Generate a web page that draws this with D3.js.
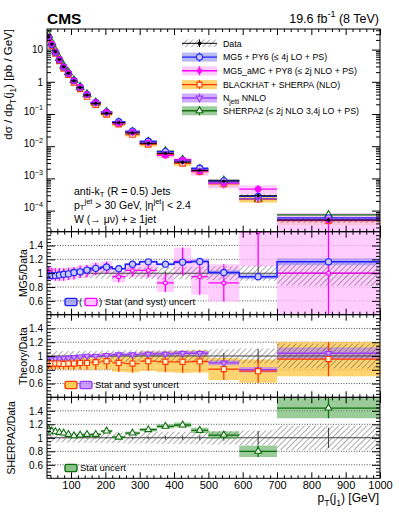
<!DOCTYPE html>
<html><head><meta charset="utf-8">
<script src="https://cdnjs.cloudflare.com/ajax/libs/d3/7.8.5/d3.min.js"></script>
<style>body{margin:0;background:#fff} svg{display:block} text{font-family:"Liberation Sans",Arial,Helvetica,sans-serif;fill:#000}</style>
</head><body><svg id="c" width="399" height="516"></svg>
<script>
// ---------------- data ----------------
const binEdges = [30,39,49,60,72,85,100,117,136,157,187,220,258,300,350,400,450,500,590,700,1000];
const dataXsec = [25,14.9,8.6,5.0,2.95,1.85,1.08,0.67,0.39,0.215,0.105,0.054,0.026,0.0123,0.0060,0.0032,0.00177,0.00083,0.00029,0.000051];
const dataStat = [0.004,0.004,0.004,0.005,0.005,0.005,0.006,0.007,0.008,0.009,0.01,0.012,0.015,0.02,0.025,0.03,0.035,0.045,0.1,0.15];
const dataTot  = [0.075,0.07,0.07,0.07,0.07,0.07,0.07,0.075,0.075,0.075,0.08,0.08,0.085,0.085,0.09,0.09,0.095,0.1,0.11,0.18];
const mg5Ratio = [0.965,0.965,0.965,0.975,0.985,0.99,1.01,1.02,1.045,1.07,1.09,1.065,1.13,1.165,1.13,1.16,1.17,1.01,0.95,1.165];
const mg5Err   = [0.008,0.008,0.008,0.008,0.008,0.009,0.01,0.01,0.011,0.012,0.013,0.014,0.016,0.018,0.02,0.022,0.025,0.03,0.035,0.05];
const amcRatio = [1.0,0.99,0.98,0.98,0.98,0.99,1.0,1.02,1.03,1.06,1.08,0.95,1.04,1.04,0.86,1.17,0.95,0.86,1.6,1.0];
const amcErr   = [0.09,0.09,0.09,0.09,0.09,0.09,0.09,0.09,0.09,0.09,0.09,0.08,0.09,0.1,0.13,0.2,0.26,0.27,0.5,0.65];
const bhRatio  = [0.89,0.89,0.89,0.89,0.885,0.89,0.89,0.90,0.90,0.91,0.925,0.90,0.89,0.925,0.915,0.915,0.92,0.81,0.78,0.955];
const bhErr    = [0.08,0.08,0.08,0.08,0.08,0.085,0.09,0.095,0.1,0.11,0.12,0.13,0.13,0.14,0.15,0.16,0.16,0.16,0.17,0.25];
const njRatio  = [0.95,0.95,0.96,0.96,0.97,0.97,0.98,0.99,1.0,1.0,1.01,1.02,1.02,1.03,1.03,1.04,1.04,0.90,0.80,1.04];
const njErr    = [0.025,0.025,0.025,0.025,0.025,0.025,0.025,0.025,0.025,0.028,0.03,0.03,0.03,0.032,0.034,0.035,0.035,0.035,0.04,0.085];
const sh2Ratio = [1.13,1.10,1.09,1.08,1.07,1.05,1.03,1.04,1.05,1.05,1.10,1.01,1.07,1.12,1.17,1.19,1.11,1.04,0.80,1.44];
const sh2Err   = [0.015,0.012,0.012,0.012,0.012,0.012,0.012,0.012,0.013,0.014,0.016,0.018,0.022,0.025,0.03,0.035,0.04,0.055,0.085,0.15];
const xTicks = [100,200,300,400,500,600,700,800,900,1000];
const mainYTicks = [1e-4,1e-3,1e-2,1e-1,1,10];
const ratioYTicks = [0.6,0.8,1,1.2,1.4];

// ---------------- setup ----------------
const svg = d3.select('#c');
const defs = svg.append('defs');
const pat = defs.append('pattern').attr('id','hatch').attr('patternUnits','userSpaceOnUse')
  .attr('width',4).attr('height',4).attr('patternTransform','rotate(45)');
pat.append('line').attr('x1',0).attr('y1',0).attr('x2',0).attr('y2',4).attr('stroke','#444').attr('stroke-width',0.9);

const L = 47, R = 380;
const x = d3.scaleLinear().domain([30,1000]).range([L,R]);
const yMain = d3.scaleLog().domain([Math.pow(10,-4.655), Math.pow(10,1.64)]).range([231.7,29]);
const panelsDef = [{top:231.7,bot:314.7},{top:314.7,bot:397.3},{top:397.3,bot:478.3}];
const yR = panelsDef.map(p=>d3.scaleLinear().domain([0.4,1.6]).range([p.bot,p.top]));
const bins = d3.range(binEdges.length-1).map(i=>({lo:binEdges[i],hi:binEdges[i+1],c:(binEdges[i]+binEdges[i+1])/2,i}));

const allPanels = [{top:29,bot:231.7,id:'cm'}].concat(panelsDef.map((p,k)=>({...p,id:'cr'+k})));
allPanels.forEach(p=>{
  defs.append('clipPath').attr('id',p.id).append('rect').attr('x',L).attr('y',p.top).attr('width',R-L).attr('height',p.bot-p.top);
});

const C = {
  mg5:{line:'#1f1fff',band:'#8c8cf0',bandOp:0.6},
  amc:{line:'#ff00ff',band:'#ffbcff',bandOp:0.75},
  bh:{line:'#ff3a00',band:'#ffc640',bandOp:0.75},
  nj:{line:'#9a3cff',band:'#b580ff',bandOp:0.65},
  sh2:{line:'#0f6e0f',band:'#55aa55',bandOp:0.6}
};

function rich(t, parts, fs, subOff){
  let cur = 0;
  const so = subOff===undefined ? 0.32 : subOff;
  parts.forEach(p=>{
    const [s,k,dx] = p;
    const off = k==='sub'? fs*so : k==='sup'? -fs*0.42 : 0;
    const ts = t.append('tspan').attr('dy', off-cur).style('font-size',(k==='n'?fs:fs*0.72)+'px').text(s);
    if(dx) ts.attr('dx',dx);
    cur = off;
  });
}

function sym(type, size){
  const map = {circle:d3.symbolCircle, square:d3.symbolSquare, tri:d3.symbolTriangle, tridown:d3.symbolTriangle};
  return d3.symbol().type(map[type]).size(size)();
}

function drawMarker(g, cx, cy, type, color, fill, size){
  return g.append('path').attr('d', sym(type,size)).attr('transform',`translate(${cx},${cy})${type==='tridown'?' rotate(180)':''}`)
    .attr('fill',fill).attr('stroke',color).attr('stroke-width',1.1);
}

function drawBand(g, ys, vals, errs, col, op){
  g.selectAll(null).data(bins).join('rect')
    .attr('x',b=>x(b.lo)).attr('width',b=>x(b.hi)-x(b.lo))
    .attr('y',b=>ys(vals[b.i]+errs[b.i]))
    .attr('height',b=>Math.max(0.8, ys(Math.max(vals[b.i]-errs[b.i],1e-9))-ys(vals[b.i]+errs[b.i])))
    .attr('fill',col).attr('fill-opacity',op);
}
function drawBars(g, ys, vals, errs, col, sw){
  g.selectAll(null).data(bins).join('line')
    .attr('x1',b=>x(b.lo)).attr('x2',b=>x(b.hi)).attr('y1',b=>ys(vals[b.i])).attr('y2',b=>ys(vals[b.i]))
    .attr('stroke',col).attr('stroke-width',sw||1.4);
  g.selectAll(null).data(bins).join('line')
    .attr('x1',b=>x(b.c)).attr('x2',b=>x(b.c))
    .attr('y1',b=>ys(vals[b.i]+errs[b.i])).attr('y2',b=>ys(Math.max(vals[b.i]-errs[b.i],1e-9)))
    .attr('stroke',col).attr('stroke-width',sw||1.4);
}
function drawStep(g, ys, vals, col){
  const pts = [];
  bins.forEach(b=>{pts.push([x(b.lo),ys(vals[b.i])]); pts.push([x(b.hi),ys(vals[b.i])]);});
  g.append('path').attr('d',d3.line()(pts)).attr('fill','none').attr('stroke',col).attr('stroke-width',1.5);
}
function drawMarkers(g, ys, vals, type, col, fill, size){
  bins.forEach(b=>drawMarker(g, x(b.c), ys(vals[b.i]), type, col, fill, size));
}

// ---------------- axes ----------------
const xMinor = d3.range(40,1001,20).filter(v=>v%100!==0);
function xAxes(top, bot, labels){
  const g = svg.append('g');
  g.append('g').attr('transform',`translate(0,${bot})`)
    .call(d3.axisBottom(x).tickValues(xTicks).tickSize(-6).tickPadding(3).tickFormat(labels? d3.format('d') : ''))
    .call(a=>{a.select('.domain').remove(); a.selectAll('text').style('font-size','11px').style('font-family','Liberation Sans, Arial, sans-serif');});
  g.append('g').attr('transform',`translate(0,${bot})`).call(d3.axisBottom(x).tickValues(xMinor).tickSize(-3).tickFormat(''))
    .call(a=>a.select('.domain').remove());
  g.append('g').attr('transform',`translate(0,${top})`).call(d3.axisTop(x).tickValues(xTicks).tickSize(-6).tickFormat(''))
    .call(a=>a.select('.domain').remove());
  g.append('g').attr('transform',`translate(0,${top})`).call(d3.axisTop(x).tickValues(xMinor).tickSize(-3).tickFormat(''))
    .call(a=>a.select('.domain').remove());
  g.selectAll('line').attr('stroke','#000');
}
function yAxes(ys, major, minor, majLen, minLen, fmt, fs){
  const g = svg.append('g');
  g.append('g').attr('transform',`translate(${L},0)`).call(d3.axisLeft(ys).tickValues(major).tickSize(-majLen).tickPadding(4).tickFormat(fmt))
    .call(a=>{a.select('.domain').remove(); a.selectAll('text').style('font-size',fs+'px').style('font-family','Liberation Sans, Arial, sans-serif');});
  g.append('g').attr('transform',`translate(${L},0)`).call(d3.axisLeft(ys).tickValues(minor).tickSize(-minLen).tickFormat(''))
    .call(a=>a.select('.domain').remove());
  g.append('g').attr('transform',`translate(${R},0)`).call(d3.axisRight(ys).tickValues(major).tickSize(-majLen).tickFormat(''))
    .call(a=>a.select('.domain').remove());
  g.append('g').attr('transform',`translate(${R},0)`).call(d3.axisRight(ys).tickValues(minor).tickSize(-minLen).tickFormat(''))
    .call(a=>a.select('.domain').remove());
  g.selectAll('line').attr('stroke','#000');
  return g;
}

// ---------------- main panel ----------------
const gm = svg.append('g').attr('clip-path','url(#cm)');
const abs = r => r.map((v,i)=>v*dataXsec[i]);
const series = [
  {k:'sh2', r:sh2Ratio, e:sh2Err, sym:'tri', fill:'#fff', size:26},
  {k:'bh', r:bhRatio, e:bhErr, sym:'square', fill:'#fff3d0', size:30},
  {k:'mg5', r:mg5Ratio, e:mg5Err, sym:'circle', fill:'#c8c8ff', size:30},
  {k:'amc', r:amcRatio, e:amcErr, sym:'circle', fill:'#ff00ff', size:24},
  {k:'nj', r:njRatio, e:njErr, sym:'tridown', fill:'#9a3cff', size:10}
];
series.forEach(s=>drawBand(gm, yMain, abs(s.r), abs(s.e), C[s.k].band, C[s.k].bandOp));
drawBand(gm.append('g'), yMain, dataXsec, abs(dataTot), 'url(#hatch)', 1);
series.forEach(s=>{ drawBars(gm, yMain, abs(s.r), abs(s.e), C[s.k].line, 1.3); });
series.forEach(s=>{ drawMarkers(gm, yMain, abs(s.r), s.sym, C[s.k].line, s.fill, s.size); });
drawBars(gm, yMain, dataXsec, abs(dataStat), '#000', 1);
bins.forEach(b=>gm.append('circle').attr('cx',x(b.c)).attr('cy',yMain(dataXsec[b.i])).attr('r',1.6).attr('fill','#000'));

// ---------------- ratio panels ----------------
function ratioBase(k){
  const g = svg.append('g').attr('clip-path',`url(#cr${k})`);
  const ys = yR[k];
  g.selectAll(null).data([0.6,0.8,1.2,1.4]).join('line')
    .attr('x1',L).attr('x2',R).attr('y1',d=>ys(d)).attr('y2',d=>ys(d))
    .attr('stroke','#222').attr('stroke-width',0.8).attr('stroke-dasharray','1,1.6');
  return g;
}
const ones = bins.map(()=>1);
function dataRatio(g, ys){ drawBand(g, ys, ones, dataTot, 'url(#hatch)', 1); }
function dataRatioLine(g, ys){ drawBars(g, ys, ones, dataStat, '#444', 1.1); }

{
  const ys = yR[0]; const g = ratioBase(0);
  drawBand(g, ys, amcRatio, amcErr, C.amc.band, C.amc.bandOp);
  dataRatio(g, ys);
  dataRatioLine(g, ys);
  drawBand(g, ys, mg5Ratio, mg5Err, C.mg5.band, C.mg5.bandOp);
  drawBars(g, ys, amcRatio, amcErr, C.amc.line, 1.3);
  drawMarkers(g, ys, amcRatio, 'circle', C.amc.line, '#ffd0ff', 12);
  drawStep(g, ys, mg5Ratio, C.mg5.line);
  drawMarkers(g, ys, mg5Ratio, 'circle', C.mg5.line, '#c8c8ff', 30);
}
{
  const ys = yR[1]; const g = ratioBase(1);
  drawBand(g, ys, bhRatio, bhErr, C.bh.band, C.bh.bandOp);
  drawBand(g, ys, njRatio, njErr, C.nj.band, C.nj.bandOp);
  dataRatio(g, ys);
  dataRatioLine(g, ys);
  drawBars(g, ys, njRatio, njErr, C.nj.line, 1.3);
  drawBars(g, ys, bhRatio, bhErr, C.bh.line, 1.3);
  drawMarkers(g, ys, njRatio, 'tridown', C.nj.line, '#c9a0ff', 16);
  drawMarkers(g, ys, bhRatio, 'square', C.bh.line, '#fff3d0', 26);
}
{
  const ys = yR[2]; const g = ratioBase(2);
  dataRatio(g, ys);
  dataRatioLine(g, ys);
  drawBand(g, ys, sh2Ratio, sh2Err, C.sh2.band, C.sh2.bandOp);
  drawBars(g, ys, sh2Ratio, sh2Err, C.sh2.line, 1.3);
  drawMarkers(g, ys, sh2Ratio, 'tri', C.sh2.line, '#fff', 20);
}

// ---------------- axes & frames ----------------
const mainMinor = [];
for(let e=-5;e<=1;e++) for(let m=2;m<=9;m++){ const v=m*Math.pow(10,e); if(v>yMain.domain()[0]&&v<yMain.domain()[1]) mainMinor.push(v); }
const gy = yAxes(yMain, mainYTicks, mainMinor, 8, 4, d=>'', 10);
gy.select('g').selectAll('.tick').each(function(d){
  const t = d3.select(this).select('text');
  const e = Math.round(Math.log10(d));
  if(e===0) t.text('1');
  else if(e===1) t.text('10');
  else { t.text(''); rich(t, [['10','n'],['\u2212'+(-e),'sup']], 10); }
});
const rMinor = d3.range(9,32).map(v=>v/20).filter(v=>Math.round(v*20)%4!==0);
panelsDef.forEach((p,k)=>yAxes(yR[k], ratioYTicks, rMinor, 8, 4, d=>d===1?'1':d3.format('.1f')(d), 10));
allPanels.forEach((p,k)=>xAxes(p.top, p.bot, k===3));
allPanels.forEach(p=>svg.append('rect').attr('x',L).attr('y',p.top).attr('width',R-L).attr('height',p.bot-p.top)
  .attr('fill','none').attr('stroke','#000').attr('stroke-width',1));

// ---------------- texts ----------------
svg.append('text').attr('x',47).attr('y',23.5).style('font-size','15.5px').style('font-weight','bold').text('CMS');
{
  const t = svg.append('text').attr('x',379).attr('y',22.5).attr('text-anchor','end');
  rich(t, [['19.6 fb','n'],['-1','sup'],[' (8 TeV)','n']], 12.5);
}
{
  const t = svg.append('text').attr('transform','translate(12,29) rotate(-90)').attr('text-anchor','end');
  rich(t, [['d\u03c3 / dp','n'],['T','sub'],['(j','n'],['1','sub'],[') [pb / GeV]','n']], 11.5);
}
svg.append('text').attr('transform',`translate(27,${(panelsDef[0].top+panelsDef[0].bot)/2}) rotate(-90)`).attr('text-anchor','middle').style('font-size','10.5px').text('MG5/Data');
svg.append('text').attr('transform',`translate(27,${(panelsDef[1].top+panelsDef[1].bot)/2}) rotate(-90)`).attr('text-anchor','middle').style('font-size','10.5px').text('Theory/Data');
svg.append('text').attr('transform',`translate(15,${(panelsDef[2].top+panelsDef[2].bot)/2}) rotate(-90)`).attr('text-anchor','middle').style('font-size','10.5px').text('SHERPA2/Data');
{
  const t = svg.append('text').attr('x',379).attr('y',502).attr('text-anchor','end');
  rich(t, [['p','n'],['T','sub'],['(j','n'],['1','sub'],[') [GeV]','n']], 12);
}
{
  const fs = 10.5;
  let t = svg.append('text').attr('x',74).attr('y',194.5);
  rich(t, [['anti-k','n'],['T','sub'],[' (R = 0.5) Jets','n']], fs, 0.2);
  t = svg.append('text').attr('x',74).attr('y',208.5);
  rich(t, [['p','n'],['T','sub'],['jet','sup'],[' > 30 GeV, |\u03b7','n'],['jet','sup'],['| < 2.4','n']], fs, 0.15);
  t = svg.append('text').attr('x',74).attr('y',223);
  rich(t, [['W (\u2192 \u03bc\u03bd) + \u2265 1jet','n']], fs);
}

// ---------------- legend ----------------
{
  const lx0 = 182, lx1 = 217, tx = 223, fs = 8.8;
  const rows = [43.3, 57.1, 70.8, 84.6, 98.0, 110.8];
  const lg = svg.append('g');
  lg.append('rect').attr('x',lx0).attr('y',rows[0]-3.8).attr('width',lx1-lx0).attr('height',7.6).attr('fill','url(#hatch)');
  lg.append('line').attr('x1',lx0).attr('x2',lx1).attr('y1',rows[0]).attr('y2',rows[0]).attr('stroke','#000').attr('stroke-width',1);
  lg.append('line').attr('x1',(lx0+lx1)/2).attr('x2',(lx0+lx1)/2).attr('y1',rows[0]-3.8).attr('y2',rows[0]+3.8).attr('stroke','#000').attr('stroke-width',1);
  lg.append('circle').attr('cx',(lx0+lx1)/2).attr('cy',rows[0]).attr('r',1.9).attr('fill','#000');
  lg.append('text').attr('x',tx).attr('y',rows[0]+3.2).style('font-size',fs+'px').text('Data');
  const items = [
    {k:'mg5', sym:'circle', fill:'#c8c8ff', size:30, label:[['MG5 + PY6 (\u2264 4j LO + PS)','n']]},
    {k:'amc', sym:'circle', fill:'#ff00ff', size:12, label:[['MG5_aMC + PY8 (\u2264 2j NLO + PS)','n']]},
    {k:'bh', sym:'square', fill:'#fff3d0', size:24, label:[['BLACKHAT + SHERPA (NLO)','n']]},
    {k:'nj', sym:'tridown', fill:'#c9a0ff', size:18, label:[['N','n'],['jetti','sub'],[' NNLO','n']]},
    {k:'sh2', sym:'tri', fill:'#fff', size:20, label:[['SHERPA2 (\u2264 2j NLO 3,4j LO + PS)','n']]}
  ];
  items.forEach((it,j)=>{
    const yy = rows[j+1];
    lg.append('rect').attr('x',lx0).attr('y',yy-4.5).attr('width',lx1-lx0).attr('height',9).attr('fill',C[it.k].band).attr('fill-opacity',C[it.k].bandOp);
    lg.append('line').attr('x1',lx0).attr('x2',lx1).attr('y1',yy).attr('y2',yy).attr('stroke',C[it.k].line).attr('stroke-width',1.4);
    lg.append('line').attr('x1',(lx0+lx1)/2).attr('x2',(lx0+lx1)/2).attr('y1',yy-4.5).attr('y2',yy+4.5).attr('stroke',C[it.k].line).attr('stroke-width',1.2);
    drawMarker(lg, (lx0+lx1)/2, yy, it.sym, C[it.k].line, it.fill, it.size);
    const t = lg.append('text').attr('x',tx).attr('y',yy+3.2).style('font-size',fs+'px');
    rich(t, it.label, fs);
  });
}
function legBox(x0,yc,k){
  svg.append('rect').attr('x',x0).attr('y',yc-3.6).attr('width',12).attr('height',7.2).attr('rx',1.5)
    .attr('fill',C[k].band).attr('fill-opacity',C[k].bandOp+0.1).attr('stroke',C[k].line).attr('stroke-width',1.4);
}
{
  const fs = 9.5;
  legBox(65,302,'mg5');
  svg.append('text').attr('x',79).attr('y',305.3).style('font-size',fs+'px').text('(');
  legBox(85,302,'amc');
  svg.append('text').attr('x',99).attr('y',305.3).style('font-size',fs+'px').text(') Stat (and syst) uncert');
  legBox(65,385,'bh');
  legBox(80,385,'nj');
  svg.append('text').attr('x',95).attr('y',388.3).style('font-size',fs+'px').text('Stat and syst uncert');
  legBox(65,468,'sh2');
  svg.append('text').attr('x',80).attr('y',471.3).style('font-size',fs+'px').text('Stat uncert');
}
</script></body></html>
